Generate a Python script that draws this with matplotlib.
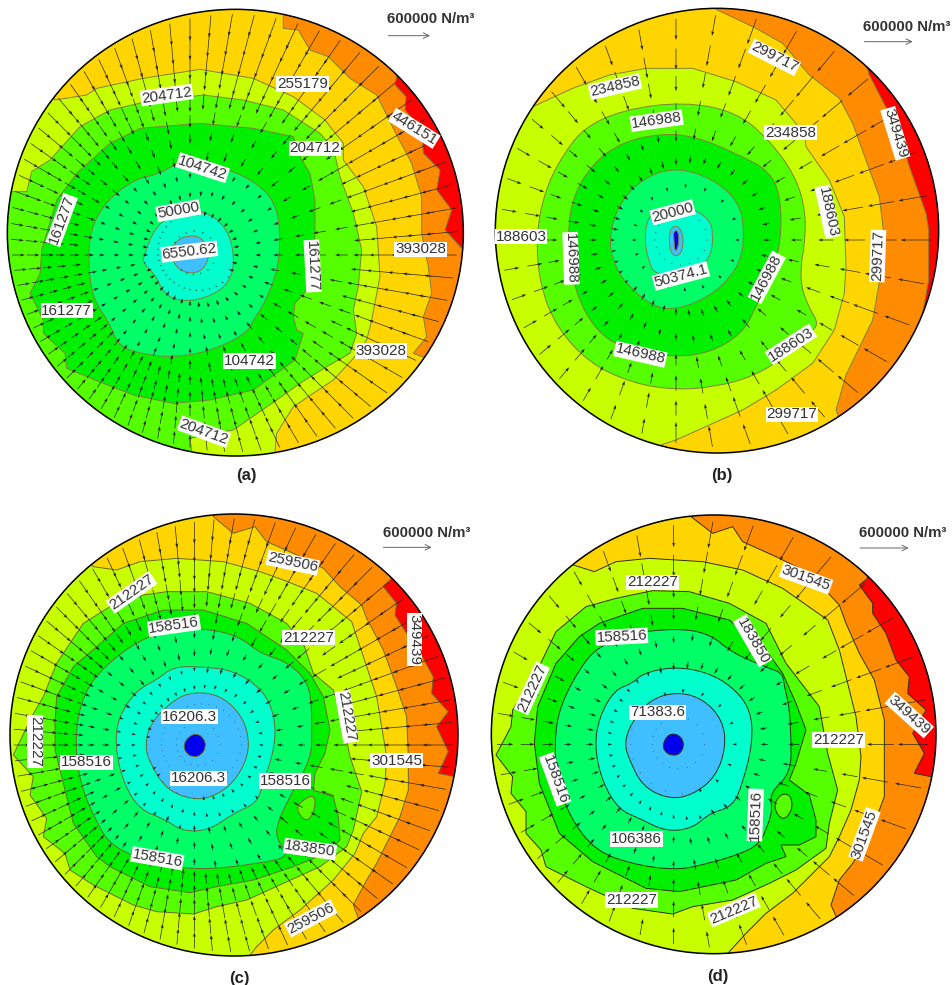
import matplotlib
matplotlib.use("Agg")
import matplotlib.pyplot as plt
from matplotlib.patches import Ellipse, PathPatch
from matplotlib.path import Path
import numpy as np

plt.rcParams['font.family'] = ['Liberation Sans', 'DejaVu Sans']

# band colours, outer (high) to inner (low)
colours = ['#ff0000', '#ff8c00', '#ffd500', '#c8ff00', '#55ff00', '#00f000', '#00ff66', '#00ffcc', '#3fbfff', '#0000ee']

# all outlines are traced in crop units (3 units = 1 image pixel)
# ---- panel a
a_orange = [(1190,228),(1185,255),(1218,290),(1215,330),(1265,390),(1270,460),(1320,510),(1310,570),(1355,630),(1335,690),(1385,745),(1450,800),(1500,1500),(-50,1500),(-50,-50),(1300,-50)]
a_gold = [(850,40),(850,85),(895,90),(930,150),(985,170),(1050,235),(1130,285),(1190,405),(1235,490),(1265,590),(1265,700),(1285,800),(1295,880),(1270,950),(1280,1010),(1240,1060),(1272,1072),(1400,1200),(1500,1500),(-50,1500),(-50,-50),(850,-50)]
a_yellow = [(165,300),(260,285),(290,265),(430,235),(600,208),(760,235),(880,290),(975,360),(1030,430),(1030,480),(1090,560),(1130,680),(1140,830),(1115,960),(1100,1020),(1060,1075),(1000,1140),(880,1220),(830,1300),(825,1355),(800,1500),(-50,1500),(-50,-50)]
a_green = [(35,575),(80,575),(95,515),(150,480),(240,380),(330,330),(440,305),(610,285),(730,300),(850,330),(960,400),(1000,445),(1020,530),(1060,640),(1085,750),(1075,860),(1060,930),(1070,1000),(1050,1060),(980,1100),(900,1150),(830,1200),(700,1290),(640,1300),(570,1315),(575,1355),(500,1500),(-50,1500),(-50,575)]
a_pure = [(235,515),(330,430),(420,385),(600,370),(760,385),(880,410),(900,470),(930,520),(945,600),(945,700),(940,810),(930,860),(885,910),(880,950),(890,990),(910,1000),(885,1080),(760,1170),(630,1200),(520,1210),(400,1185),(310,1150),(200,1105),(195,1060),(130,1000),(130,960),(90,880),(120,820),(125,750),(170,600)]
a_spring = [(410,535),(470,525),(530,490),(600,495),(700,510),(800,570),(835,640),(840,720),(835,800),(800,900),(760,960),(740,1000),(640,1050),(530,1072),(440,1065),(355,1040),(330,970),(280,900),(265,800),(270,690),(320,600)]
a_aqua = [(430,770),(470,670),(540,640),(610,630),(680,680),(705,770),(690,850),(620,895),(540,905),(490,880),(470,830),(430,790)]
a_blue = [(510,760),(530,720),(570,705),(610,715),(630,765),(610,810),(570,822),(530,805)]
a_values = [460000, 420000, 320000, 235000, 185000, 135000, 80000, 30000, 5000]
a_labels = ["255179","204712","446151","204712","104742","50000","6550.62","161277","161277","393028","161277","104742","393028","204712"]
a_label_x = [908,500,1243,945,608,535,568,185,938,1262,200,748,1143,612]
a_label_y = [252,285,385,445,503,632,755,660,798,748,932,1083,1053,1295]
a_label_rot = [0,8,-32,0,-18,10,7,70,-87,0,0,0,0,-20]

# ---- panel b
b_orange = [(1170,195),(1180,225),(1270,400),(1300,500),(1350,640),(1358,690),(1358,840),(1340,940),(1500,1100),(1500,1500),(-50,1500),(-50,-50),(1300,-50)]
b_gold = [(720,28),(840,85),(920,130),(1000,225),(1090,295),(1130,370),(1170,480),(1210,590),(1222,690),(1218,800),(1190,960),(1110,1125),(1080,1230),(1090,1255),(1300,1400),(1500,1500),(-50,1500),(-50,-50),(720,-50)]
b_yellow = [(175,318),(290,265),(400,225),(510,205),(650,205),(780,245),(900,300),(985,400),(990,440),(1060,540),(1105,650),(1110,800),(1105,880),(1075,990),(1010,1090),(900,1170),(800,1230),(600,1320),(555,1335),(500,1500),(-50,1500),(-50,-50)]
b_green = [(180,700),(210,560),(270,450),(330,380),(440,330),(620,305),(780,335),(880,420),(960,530),(990,640),(985,740),(975,790),(975,860),(1000,925),(1025,965),(1015,990),(930,1070),(830,1130),(720,1160),(600,1170),(470,1150),(340,1090),(240,980),(190,850)]
b_pure = [(275,700),(290,590),(350,490),(440,425),(560,400),(660,410),(780,460),(885,515),(915,600),(915,720),(890,820),(840,920),(800,1000),(700,1060),(580,1072),(450,1045),(380,1010),(320,930),(285,820)]
b_spring = [(400,720),(420,630),(480,550),(560,510),(640,510),(730,550),(790,610),(805,690),(795,790),(720,880),(600,932),(520,915),(440,840),(410,780)]
b_aqua = [(505,720),(515,650),(555,630),(600,620),(660,630),(700,660),(712,700),(705,770),(670,800),(600,830),(535,820),(520,790)]
b_blue = [(580,700),(590,678),(610,680),(622,710),(620,745),(610,767),(590,767),(580,740)]
b_dark = [(592,695),(605,690),(610,720),(603,752),(596,752),(594,720)]
b_values = [370000, 330000, 260000, 190000, 140000, 90000, 50000, 20000, 5000, 2000]
b_labels = ["299717","234858","146988","234858","188603","20000","188603","146988","299717","349439","50374.1","146988","188603","146988","299717"]
b_label_x = [895,417,542,943,1055,590,135,285,1205,1258,615,872,945,493,948]
b_label_y = [172,260,362,398,635,637,710,775,768,400,828,832,1033,1063,1243]
b_label_rot = [-27,13,8,0,-78,15,0,-88,88,-73,15,62,33,-13,0]

# ---- panel c
c_orange = [(1172,268),(1150,290),(1190,340),(1185,375),(1220,430),(1250,470),(1300,560),(1295,610),(1345,665),(1310,710),(1345,785),(1315,850),(1365,860),(1500,900),(1500,1500),(-50,1500),(-50,-50),(1300,-50)]
c_gold = [(640,80),(700,130),(765,110),(800,155),(880,190),(970,235),(1020,290),(1085,345),(1100,385),(1150,480),(1190,590),(1220,680),(1225,800),(1225,900),(1200,980),(1180,1020),(1130,1120),(1100,1170),(1060,1245),(1075,1285),(1300,1500),(-50,1500),(-50,-50),(640,-50)]
c_yellow = [(280,230),(350,240),(420,215),(530,205),(670,215),(780,245),(850,270),(950,310),(1055,395),(1080,470),(1130,620),(1160,800),(1155,880),(1130,980),(1090,1030),(1065,1090),(1000,1170),(900,1260),(820,1320),(770,1370),(750,1395),(700,1500),(-50,1500),(-50,-50)]
c_green = [(40,795),(95,680),(130,620),(170,520),(250,400),(330,350),(430,315),(500,305),(620,305),(750,340),(860,400),(910,460),(940,550),(1000,600),(1030,700),(1050,800),(1085,905),(1060,1020),(1040,1070),(960,1130),(850,1180),(740,1230),(650,1250),(580,1272),(470,1265),(400,1245),(280,1185),(210,1140),(195,1090),(130,1040),(140,985),(90,915),(100,860)]
c_pure = [(165,700),(170,620),(220,530),(290,470),(370,400),(490,360),(610,360),(740,400),(860,480),(930,550),(970,620),(990,720),(975,790),(945,850),(940,900),(1000,920),(1015,980),(1020,1050),(980,1090),(880,1130),(760,1170),(650,1190),(570,1208),(450,1190),(330,1130),(290,1100),(220,1000),(190,880),(165,780)]
c_spring = [(225,760),(240,640),(290,550),(400,460),(500,420),(620,415),(720,440),(780,490),(860,515),(920,570),(935,640),(935,720),(935,800),(880,900),(830,1000),(830,1050),(870,1100),(780,1120),(610,1140),(480,1125),(340,1075),(290,1000),(240,880)]
c_aqua = [(345,770),(355,680),(410,600),(470,570),(520,530),(600,530),(700,540),(790,600),(825,680),(825,770),(790,880),(770,940),(700,970),(630,1020),(550,1025),(490,985),(420,960),(370,880)]
c_blue = [(435,770),(450,700),(520,630),(580,605),(660,615),(720,670),(745,730),(745,800),(700,880),(640,920),(580,930),(500,900),(450,820)]
c_dark = [(550,765),(565,740),(590,730),(612,745),(618,770),(605,795),(580,802),(558,790)]
c_island = [(885,955),(915,925),(945,915),(945,960),(920,1000)]
c_values = [370000, 330000, 270000, 200000, 170000, 135000, 90000, 50000, 16000, 5000]
c_labels = ["259506","212227","158516","212227","349439","212227","16206.3","212227","158516","301545","16206.3","158516","183850","158516","259506"]
c_label_x = [878,395,522,925,1243,1040,568,105,260,1190,595,855,930,472,932]
c_label_y = [218,307,407,443,448,680,680,755,817,812,865,873,1077,1105,1285]
c_label_rot = [-12,35,8,0,-90,-80,0,-90,0,0,0,0,-8,-10,28]

# ---- panel d
d_orange = [(1172,268),(1150,285),(1190,340),(1190,370),(1230,430),(1260,510),(1300,560),(1295,610),(1350,660),(1310,730),(1345,790),(1315,850),(1365,860),(1500,900),(1500,1500),(-50,1500),(-50,-50),(1300,-50)]
d_gold = [(645,80),(710,130),(770,110),(800,155),(900,200),(1000,250),(1090,345),(1110,400),(1150,490),(1195,570),(1225,690),(1225,800),(1225,920),(1180,1040),(1130,1120),(1090,1170),(1065,1245),(1080,1278),(1300,1500),(-50,1500),(-50,-50),(645,-50)]
d_yellow = [(292,225),(355,245),(420,215),(520,205),(680,215),(800,240),(920,295),(1055,390),(1090,480),(1140,680),(1155,800),(1150,870),(1125,960),(1090,1040),(1060,1100),(950,1210),(870,1270),(810,1330),(760,1385),(700,1500),(-50,1500),(-50,-50)]
d_green = [(60,795),(105,710),(110,660),(170,570),(240,425),(330,350),(420,325),(530,302),(640,305),(760,340),(870,400),(930,520),(1030,650),(1055,790),(1085,900),(1060,1000),(1050,1075),(960,1140),(880,1180),(770,1230),(650,1250),(590,1272),(470,1255),(330,1190),(210,1130),(195,1080),(150,1030),(150,965),(105,910),(110,860)]
d_pure = [(175,760),(185,650),(240,520),(310,440),(370,400),(500,355),(620,355),(760,390),(870,480),(920,550),(960,640),(990,720),(960,820),(940,870),(1000,915),(1020,990),(1020,1040),(970,1065),(915,1065),(930,1100),(870,1120),(780,1170),(610,1205),(510,1195),(350,1115),(250,1030),(190,880)]
d_spring = [(235,760),(250,650),(320,520),(370,470),(460,430),(600,415),(700,430),(770,490),(880,535),(920,550),(925,590),(940,650),(945,740),(945,850),(880,910),(890,960),(870,1020),(850,1060),(800,1090),(680,1125),(600,1140),(480,1125),(360,1085),(280,980),(245,870)]
d_aqua = [(355,770),(370,680),(415,600),(470,580),(500,550),(590,530),(690,545),(770,590),(825,660),(830,760),(800,880),(770,950),(700,970),(650,1015),(570,1025),(490,985),(430,960),(380,880)]
d_blue = [(445,760),(465,700),(520,630),(600,605),(680,625),(740,690),(750,770),(720,860),(650,915),(580,928),(500,890),(460,810)]
d_dark = [(560,760),(580,730),(610,735),(625,760),(615,790),(590,798),(565,785)]
d_island = [(890,950),(915,910),(945,915),(950,960),(920,995)]
d_values = [370000, 330000, 270000, 200000, 170000, 135000, 90000, 50000, 16000, 5000]
d_labels = ["301545","212227","158516","183850","212227","71383.6","349439","212227","158516","158516","106386","301545","212227","212227"]
d_label_x = [990,530,437,830,168,545,1300,1088,237,838,482,1165,467,773]
d_label_y = [265,277,440,452,595,667,675,750,868,975,1047,1033,1230,1260]
d_label_rot = [-20,0,3,-60,65,0,-42,0,-70,88,0,70,0,23]

# arrow mesh: spoke directions (degrees), ring fractions from focus to rim, spoke thinning per ring
fine_spokes = [0,5,10,15,20,25,30,35,40,45,50,55,60,65,70,75,80,85,90,95,100,105,110,115,120,125,130,135,140,145,150,155,160,165,170,175,180,185,190,195,200,205,210,215,220,225,230,235,240,245,250,255,260,265,270,275,280,285,290,295,300,305,310,315,320,325,330,335,340,345,350,355]
coarse_spokes = [0,10,20,30,40,50,60,70,80,90,100,110,120,130,140,150,160,170,180,190,200,210,220,230,240,250,260,270,280,290,300,310,320,330,340,350]
fine_rings = [0.98,0.90,0.82,0.74,0.66,0.58,0.50,0.42,0.34,0.26,0.18,0.10]
fine_steps = [1,1,1,1,1,2,2,2,2,2,2,4]
coarse_rings = [0.97,0.84,0.72,0.60,0.48,0.36,0.24,0.12]
coarse_steps = [1,1,1,1,1,1,2,2]

panels = [
    dict(crop=(0,0,476,490), centre=(706,698), radii=(684,670), focus=(570,765), scale=125, line='#80803a', smooth_from=5,
         outlines=[a_orange,a_gold,a_yellow,a_green,a_pure,a_spring,a_aqua,a_blue], values=a_values, island=None,
         spokes=fine_spokes, rings=fine_rings, steps=fine_steps, labels=(a_labels,a_label_x,a_label_y,a_label_rot),
         caption=("(a)",740,1428), unit=(1160,57), ref_y=107, ref_x=1165),
    dict(crop=(476,0,476,490), centre=(723,692), radii=(665,667), focus=(600,720), scale=145, line='#80803a', smooth_from=3,
         outlines=[b_orange,b_gold,b_yellow,b_green,b_pure,b_spring,b_aqua,b_blue,b_dark], values=b_values, island=None,
         spokes=coarse_spokes, rings=coarse_rings, steps=coarse_steps, labels=(b_labels,b_label_x,b_label_y,b_label_rot),
         caption=("(b)",737,1428), unit=(1160,82), ref_y=125, ref_x=1165),
    dict(crop=(0,490,476,495), centre=(702,735), radii=(672,663), focus=(583,765), scale=145, line='#6a6a30', smooth_from=5,
         outlines=[c_orange,c_gold,c_yellow,c_green,c_pure,c_spring,c_aqua,c_blue,c_dark], values=c_values, island=c_island,
         spokes=fine_spokes, rings=fine_rings, steps=fine_steps, labels=(c_labels,c_label_x,c_label_y,c_label_rot),
         caption=("(c)",717,1465), unit=(1148,130), ref_y=172, ref_x=1150),
    dict(crop=(476,490,476,495), centre=(713,733), radii=(667,658), focus=(593,763), scale=146, line='#303018', smooth_from=5,
         outlines=[d_orange,d_gold,d_yellow,d_green,d_pure,d_spring,d_aqua,d_blue,d_dark], values=d_values, island=d_island,
         spokes=coarse_spokes, rings=coarse_rings, steps=coarse_steps, labels=(d_labels,d_label_x,d_label_y,d_label_rot),
         caption=("(d)",725,1460), unit=(1150,130), ref_y=174, ref_x=1152),
]

fig = plt.figure(figsize=(9.52, 9.85), dpi=100)


def rim_distance(p, ang):
    # distance from focus to the ellipse rim along a direction
    cx, cy, rx, ry, fx, fy = p['centre'][0], p['centre'][1], p['radii'][0], p['radii'][1], p['focus'][0], p['focus'][1]
    dx, dy = np.cos(np.radians(ang)), -np.sin(np.radians(ang))
    ox, oy = (fx-cx)/rx, (fy-cy)/ry
    ux, uy = dx/rx, dy/ry
    a = ux*ux + uy*uy
    b = 2*(ox*ux + oy*uy)
    c = ox*ox + oy*oy - 1
    return (-b + np.sqrt(b*b - 4*a*c)) / (2*a), dx, dy


def outline_path(pts, smooth):
    if not smooth:
        return Path(list(pts) + [pts[0]], [Path.MOVETO] + [Path.LINETO]*(len(pts)-1) + [Path.CLOSEPOLY])
    # quadratic curves through edge midpoints, the traced points act as controls
    n = len(pts)
    mid = [((pts[i][0]+pts[(i+1) % n][0])/2, (pts[i][1]+pts[(i+1) % n][1])/2) for i in range(n)]
    verts, codes = [mid[-1]], [Path.MOVETO]
    for i in range(n):
        verts += [pts[i], mid[i]]
        codes += [Path.CURVE3, Path.CURVE3]
    verts.append(mid[-1])
    codes.append(Path.CLOSEPOLY)
    return Path(verts, codes)


for p in panels:
    x0, y0, w, h = p['crop']
    ax = fig.add_axes([x0/952, 1-(y0+h)/985, w/952, h/985])
    ax.set_xlim(0, w*3)
    ax.set_ylim(h*3, 0)
    ax.axis('off')

    disc = Ellipse(p['centre'], p['radii'][0]*2, p['radii'][1]*2, fc=colours[0], ec='none', zorder=1)
    ax.add_patch(disc)
    for i, outline in enumerate(p['outlines']):
        patch = PathPatch(outline_path(outline, i >= p['smooth_from']), fc=colours[i+1], ec=p['line'], lw=0.7, zorder=2+i*0.01)
        ax.add_patch(patch)
        patch.set_clip_path(disc)
    if p['island'] is not None:
        patch = PathPatch(outline_path(p['island'], True), fc=colours[4], ec=p['line'], lw=0.7, zorder=2.5)
        ax.add_patch(patch)
    ax.add_patch(Ellipse(p['centre'], p['radii'][0]*2, p['radii'][1]*2, fc='none', ec='black', lw=1.1, zorder=6))

    # arrows: length from the band the tail sits in, against the 600000 reference arrow
    paths = [Path(o) for o in p['outlines']]
    xs, ys, us, vs = [], [], [], []
    for j, ang in enumerate(p['spokes']):
        dist, dx, dy = rim_distance(p, ang)
        for t, step in zip(p['rings'], p['steps']):
            if j % step != 0:
                continue
            tx = p['focus'][0] + dx*dist*t
            ty = p['focus'][1] + dy*dist*t
            val = p['values'][0]
            for k, path in enumerate(paths):
                if path.contains_point((tx, ty)):
                    val = p['values'][k+1]
            ln = val/600000*p['scale']
            xs.append(tx)
            ys.append(ty)
            us.append(-dx*ln)
            vs.append(-dy*ln)
    ax.quiver(xs, ys, us, vs, angles='xy', scale_units='xy', scale=1, width=0.0014,
              headwidth=4.5, headlength=7, headaxislength=6, minlength=0.3, color='#222222', zorder=4)

    names, lx, ly, rot = p['labels']
    for s, x, y, r in zip(names, lx, ly, rot):
        ax.text(x, y, s, fontsize=11, color='#333333', rotation=r, ha='center', va='center', zorder=7,
                bbox=dict(fc='white', ec='none', pad=0.6))

    ax.text(p['caption'][1], p['caption'][2], p['caption'][0], fontsize=12, fontweight='bold', color='#222222',
            ha='center', va='center')
    ax.text(p['unit'][0], p['unit'][1], "600000 N/m³", fontsize=10.8, fontweight='bold', color='#333333',
            ha='left', va='center', clip_on=False, zorder=8)
    ax.annotate("", xy=(p['ref_x']+p['scale'], p['ref_y']), xytext=(p['ref_x'], p['ref_y']),
                arrowprops=dict(arrowstyle='->', color='#666666', lw=0.7, shrinkA=0, shrinkB=0), zorder=8)

fig.savefig("out.png", dpi=100)
